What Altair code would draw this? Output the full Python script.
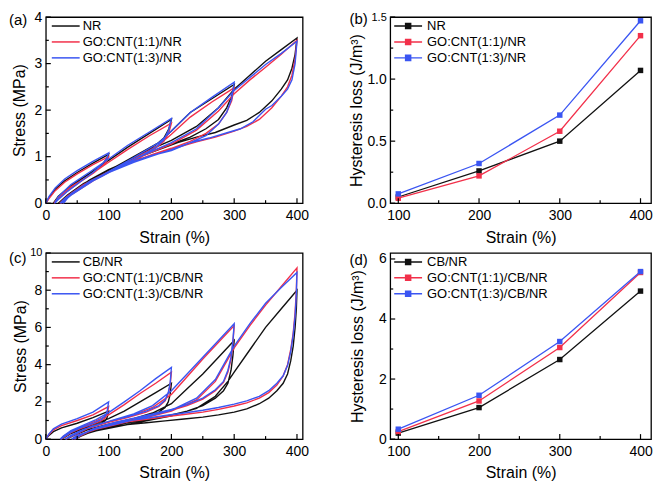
import altair as alt
import pandas as pd

FONT = "Liberation Sans"
BLACK = "#111111"
RED = "#f2304a"
BLUE = "#3a55f2"

# ---------------- (a) cyclic stress-strain loops, unfilled rubbers ----------------
a_nr_strain = [0, 5, 15, 30, 50, 75, 100, 97, 90, 75, 55, 35, 20, 12,
               20, 40, 70, 100, 130, 165, 200, 196, 188, 175, 150, 120, 90, 60, 35, 20,
               30, 60, 100, 140, 180, 200, 230, 265, 300, 296, 288, 275, 255, 230, 200, 170, 140, 100, 70, 40, 22,
               40, 80, 120, 160, 200, 240, 275, 300, 325, 350, 375, 400,
               397, 392, 385, 375, 360, 340, 320, 300, 270, 240, 210, 180, 150, 110, 70, 40, 25]
a_nr_stress = [0, 0.12, 0.3, 0.48, 0.66, 0.86, 1.05, 0.95, 0.84, 0.68, 0.5, 0.3, 0.12, 0,
               0.15, 0.38, 0.64, 0.92, 1.2, 1.5, 1.8, 1.6, 1.4, 1.25, 1.05, 0.85, 0.63, 0.42, 0.18, 0,
               0.12, 0.4, 0.7, 1.0, 1.3, 1.55, 1.95, 2.25, 2.55, 2.3, 2.05, 1.8, 1.6, 1.42, 1.27, 1.12, 0.95, 0.72, 0.5, 0.22, 0,
               0.2, 0.55, 0.85, 1.12, 1.35, 1.65, 2.05, 2.45, 2.75, 3.05, 3.3, 3.55,
               3.2, 2.9, 2.65, 2.45, 2.2, 1.95, 1.78, 1.68, 1.52, 1.42, 1.3, 1.15, 1.0, 0.78, 0.5, 0.22, 0]

a_11_strain = [0, 5, 15, 30, 50, 75, 100, 97, 90, 75, 55, 35, 20, 13,
               20, 40, 70, 100, 130, 165, 200, 196, 188, 175, 150, 120, 90, 60, 35, 22,
               30, 60, 100, 140, 180, 200, 230, 265, 300, 296, 288, 275, 255, 230, 200, 170, 140, 100, 70, 40, 24,
               40, 80, 120, 160, 200, 240, 275, 300, 325, 350, 375, 400,
               397, 392, 385, 375, 360, 340, 320, 300, 270, 240, 210, 180, 150, 110, 70, 40, 27]
a_11_stress = [0, 0.1, 0.27, 0.45, 0.63, 0.83, 1.0, 0.9, 0.8, 0.64, 0.46, 0.27, 0.1, 0,
               0.13, 0.35, 0.6, 0.88, 1.15, 1.45, 1.72, 1.52, 1.33, 1.18, 0.98, 0.8, 0.6, 0.4, 0.16, 0,
               0.1, 0.37, 0.66, 0.95, 1.25, 1.48, 1.85, 2.18, 2.48, 2.2, 1.95, 1.7, 1.5, 1.33, 1.18, 1.05, 0.9, 0.68, 0.47, 0.2, 0,
               0.18, 0.52, 0.8, 1.05, 1.27, 1.57, 1.98, 2.35, 2.65, 2.92, 3.2, 3.5,
               3.1, 2.75, 2.5, 2.3, 2.05, 1.8, 1.65, 1.55, 1.42, 1.32, 1.2, 1.08, 0.95, 0.74, 0.47, 0.2, 0]

a_13_strain = [0, 5, 15, 30, 50, 75, 100, 97, 90, 75, 55, 35, 20, 14,
               20, 40, 70, 100, 130, 165, 200, 196, 188, 175, 150, 120, 90, 60, 35, 23,
               30, 60, 100, 140, 180, 200, 230, 265, 300, 296, 288, 275, 255, 230, 200, 170, 140, 100, 70, 40, 25,
               40, 80, 120, 160, 200, 240, 275, 300, 325, 350, 375, 400,
               397, 392, 385, 375, 360, 350, 330, 310, 290, 260, 230, 200, 170, 140, 110, 70, 40, 28]
a_13_stress = [0, 0.14, 0.33, 0.52, 0.7, 0.9, 1.08, 0.96, 0.84, 0.66, 0.46, 0.26, 0.08, 0,
               0.14, 0.4, 0.67, 0.95, 1.24, 1.53, 1.82, 1.58, 1.36, 1.2, 1.0, 0.8, 0.58, 0.38, 0.14, 0,
               0.1, 0.38, 0.68, 0.98, 1.3, 1.55, 1.95, 2.28, 2.6, 2.25, 1.95, 1.7, 1.45, 1.3, 1.15, 1.02, 0.88, 0.66, 0.45, 0.18, 0,
               0.17, 0.52, 0.8, 1.06, 1.3, 1.6, 2.05, 2.42, 2.7, 2.98, 3.22, 3.48,
               3.0, 2.65, 2.45, 2.3, 2.1, 2.02, 1.75, 1.6, 1.52, 1.4, 1.3, 1.13, 1.03, 0.9, 0.74, 0.47, 0.2, 0]

# ---------------- (c) cyclic stress-strain loops, CB filled rubbers ----------------
c_cb_strain = [0, 5, 12, 25, 50, 75, 100, 98, 95, 88, 75, 55, 40, 28, 25,
               28, 40, 60, 80, 100, 125, 150, 175, 200, 198, 195, 190, 180, 160, 130, 100, 70, 45, 33,
               40, 60, 100, 140, 170, 200, 225, 250, 275, 300,
               298, 295, 290, 283, 270, 250, 225, 200, 170, 140, 110, 80, 55, 42,
               50, 80, 120, 160, 200, 240, 270, 290, 300, 325, 350, 375, 400,
               399, 397, 394, 390, 385, 378, 368, 355, 340, 320, 300, 275, 250, 220, 190, 160, 130, 100, 75, 55, 47]
c_cb_stress = [0, 0.2, 0.4, 0.6, 0.85, 1.15, 1.5, 1.2, 1.0, 0.85, 0.7, 0.5, 0.3, 0.05, 0,
               0.12, 0.35, 0.6, 0.85, 1.1, 1.5, 2.0, 2.5, 3.0, 2.4, 2.0, 1.7, 1.45, 1.2, 0.97, 0.78, 0.55, 0.2, 0,
               0.15, 0.45, 0.8, 1.1, 1.4, 1.9, 2.7, 3.5, 4.4, 5.3,
               4.5, 3.7, 3.0, 2.6, 2.2, 1.8, 1.5, 1.3, 1.1, 0.93, 0.75, 0.5, 0.15, 0,
               0.15, 0.45, 0.72, 0.98, 1.25, 1.65, 2.3, 3.1, 3.6, 4.8, 6.0, 7.0, 8.0,
               7.0, 6.0, 5.0, 4.2, 3.5, 3.0, 2.6, 2.2, 1.9, 1.62, 1.45, 1.3, 1.18, 1.08, 0.98, 0.88, 0.78, 0.65, 0.45, 0.15, 0]

c_11_strain = [0, 5, 12, 25, 50, 75, 100, 98, 95, 88, 75, 55, 40, 27, 24,
               28, 40, 60, 80, 100, 125, 150, 175, 200, 198, 195, 190, 180, 160, 130, 100, 70, 45, 32,
               40, 60, 100, 140, 170, 200, 225, 250, 275, 300,
               298, 295, 290, 283, 270, 250, 225, 200, 170, 140, 110, 80, 55, 42,
               50, 80, 120, 160, 200, 240, 270, 290, 300, 325, 350, 375, 400,
               399, 397, 394, 390, 385, 378, 368, 355, 340, 320, 300, 275, 250, 220, 190, 160, 130, 100, 75, 55, 46]
c_11_stress = [0, 0.25, 0.5, 0.72, 1.0, 1.3, 1.75, 1.4, 1.15, 0.98, 0.8, 0.57, 0.35, 0.05, 0,
               0.15, 0.42, 0.7, 0.98, 1.3, 1.85, 2.45, 3.0, 3.6, 2.9, 2.45, 2.05, 1.75, 1.45, 1.15, 0.9, 0.62, 0.22, 0,
               0.18, 0.5, 0.92, 1.3, 1.7, 2.4, 3.35, 4.3, 5.2, 6.1,
               5.2, 4.3, 3.6, 3.05, 2.6, 2.15, 1.8, 1.55, 1.3, 1.1, 0.88, 0.58, 0.18, 0,
               0.18, 0.52, 0.85, 1.15, 1.5, 2.1, 3.1, 4.3, 4.9, 6.1, 7.2, 8.2, 9.2,
               8.0, 6.8, 5.7, 4.8, 4.0, 3.4, 2.9, 2.5, 2.2, 1.95, 1.78, 1.6, 1.45, 1.32, 1.2, 1.06, 0.93, 0.77, 0.52, 0.18, 0]

c_13_strain = [0, 5, 12, 25, 50, 75, 100, 98, 95, 88, 75, 55, 40, 26, 23,
               28, 40, 60, 80, 100, 125, 150, 175, 200, 198, 195, 190, 180, 160, 130, 100, 70, 45, 31,
               40, 60, 100, 140, 170, 200, 225, 250, 275, 300,
               298, 295, 290, 283, 270, 250, 225, 200, 170, 140, 110, 80, 55, 41,
               50, 80, 120, 160, 200, 240, 270, 290, 300, 325, 350, 375, 400,
               399, 397, 394, 390, 385, 378, 368, 355, 340, 320, 300, 275, 250, 220, 190, 160, 130, 100, 75, 55, 45]
c_13_stress = [0, 0.28, 0.55, 0.8, 1.1, 1.45, 2.0, 1.55, 1.25, 1.05, 0.85, 0.6, 0.37, 0.05, 0,
               0.17, 0.45, 0.75, 1.05, 1.42, 2.0, 2.6, 3.25, 3.85, 3.0, 2.5, 2.1, 1.8, 1.5, 1.2, 0.95, 0.65, 0.23, 0,
               0.2, 0.52, 0.95, 1.35, 1.8, 2.6, 3.5, 4.4, 5.3, 6.2,
               5.3, 4.4, 3.7, 3.1, 2.65, 2.2, 1.85, 1.6, 1.35, 1.13, 0.9, 0.6, 0.2, 0,
               0.2, 0.55, 0.88, 1.2, 1.55, 2.2, 3.2, 4.4, 5.0, 6.2, 7.3, 8.15, 8.95,
               7.8, 6.6, 5.6, 4.7, 3.95, 3.4, 3.0, 2.6, 2.3, 2.05, 1.88, 1.7, 1.55, 1.4, 1.27, 1.12, 0.98, 0.8, 0.55, 0.2, 0]

# ---------------- (b), (d) hysteresis loss ----------------
hl_strain = [100, 200, 300, 400]
b_nr = [0.05, 0.26, 0.50, 1.07]
b_11 = [0.04, 0.22, 0.58, 1.35]
b_13 = [0.075, 0.32, 0.71, 1.47]
d_cb = [0.20, 1.05, 2.65, 4.93]
d_11 = [0.25, 1.27, 3.05, 5.55]
d_13 = [0.33, 1.46, 3.25, 5.58]

names_top = ["NR", "GO:CNT(1:1)/NR", "GO:CNT(1:3)/NR"]
names_bot = ["CB/NR", "GO:CNT(1:1)/CB/NR", "GO:CNT(1:3)/CB/NR"]

# tick values
x_loop_major = [0, 100, 200, 300, 400]
x_loop_minor = [50, 150, 250, 350]
x_hl_major = [100, 200, 300, 400]
x_hl_minor = [150, 250, 350]
ya_major = [0, 1, 2, 3, 4]
ya_minor = [0.5, 1.5, 2.5, 3.5]
yb_major = [0, 0.5, 1.0, 1.5]
yb_minor = [0.25, 0.75, 1.25]
yc_major = [0, 2, 4, 6, 8, 10]
yc_minor = [1, 3, 5, 7, 9]
yd_major = [0, 2, 4, 6]
yd_minor = [1, 3, 5]

W_L, W_R, H = 258, 262, 187
SP_H, SP_V = 88, 50


def make_df(series):
    frames = []
    for name, xs, ys in series:
        frames.append(pd.DataFrame({"strain": xs, "val": ys, "sample": name,
                                    "i": list(range(len(xs)))}))
    return pd.concat(frames, ignore_index=True)


LINE_PATH = "M-2,0H2"
SQ_PATH = "M-2,0H2M-0.36,-0.36H0.36V0.36H-0.36ZM-0.15,-0.15H0.15V0.15H-0.15Z"


def panel(df, names, xdom, ydom, xmaj, xmin, ymaj, ymin, ytitle, ytp, yfmt, small_top,
          letter, letter_dx, letter_dy, leg_x, leg_y, label_off, width, points):
    xs = alt.Scale(domain=xdom, nice=False, zero=False)
    ys = alt.Scale(domain=ydom, nice=False, zero=False)
    legend = alt.Legend(title=None, orient="none", legendX=leg_x, legendY=leg_y,
                        direction="vertical", symbolType=SQ_PATH if points else LINE_PATH,
                        symbolSize=196, symbolStrokeWidth=1.5, labelOffset=label_off,
                        labelFont=FONT, labelFontSize=13, labelColor="black",
                        rowPadding=1, padding=0)
    color = alt.Color("sample:N", scale=alt.Scale(domain=names, range=[BLACK, RED, BLUE]),
                      legend=legend)
    xaxis = alt.Axis(values=xmaj, title="Strain (%)", ticks=False, domain=False, grid=False,
                     labelFont=FONT, labelFontSize=14, labelColor="black", labelPadding=5,
                     labelFlush=False, labelOverlap=False, format="d",
                     titleFont=FONT, titleFontSize=16, titleFontWeight="normal",
                     titleColor="black", titlePadding=7)
    if small_top is not None:
        yfs = alt.condition(f"datum.value == {small_top}", alt.value(11), alt.value(14))
    else:
        yfs = 14
    yaxis = alt.Axis(values=ymaj, title=ytitle, ticks=False, domain=False, grid=False,
                     labelFont=FONT, labelFontSize=yfs, labelColor="black", labelPadding=4,
                     labelFlush=False, labelOverlap=False, format=yfmt,
                     titleFont=FONT, titleFontSize=16, titleFontWeight="normal",
                     titleColor="black", titlePadding=ytp)
    if points:
        base = alt.Chart(df).mark_line(strokeWidth=1.3,
                                       point=alt.OverlayMarkDef(shape="square", size=30, filled=True))
    else:
        base = alt.Chart(df).mark_line(strokeWidth=1.4)
    lines = base.encode(
        x=alt.X("strain:Q", scale=xs, axis=xaxis),
        y=alt.Y("val:Q", scale=ys, axis=yaxis),
        color=color,
        order="i:Q",
    )
    layers = [lines]
    for vals, ln in ((ymaj, 5), (ymin, 3)):
        layers.append(alt.Chart(pd.DataFrame({"val": vals})).mark_rule(color="black", strokeWidth=1.2).encode(
            y=alt.Y("val:Q", scale=ys, axis=None), x=alt.value(0), x2=alt.value(ln)))
    for vals, ln in ((xmaj, 5), (xmin, 3)):
        layers.append(alt.Chart(pd.DataFrame({"strain": vals})).mark_rule(color="black", strokeWidth=1.2).encode(
            x=alt.X("strain:Q", scale=xs, axis=None), y=alt.value(H), y2=alt.value(H - ln)))
    layers.append(alt.Chart(pd.DataFrame({"t": [letter]})).mark_text(
        align="left", baseline="middle", font=FONT, fontSize=15, color="black").encode(
        text="t:N", x=alt.value(letter_dx), y=alt.value(letter_dy)))
    return (alt.layer(*layers)
            .resolve_scale(x="independent", y="independent")
            .properties(width=width, height=H))


df_a = make_df([(names_top[0], a_nr_strain, a_nr_stress),
                (names_top[1], a_11_strain, a_11_stress),
                (names_top[2], a_13_strain, a_13_stress)])
df_b = make_df([(names_top[0], hl_strain, b_nr),
                (names_top[1], hl_strain, b_11),
                (names_top[2], hl_strain, b_13)])
df_c = make_df([(names_bot[0], c_cb_strain, c_cb_stress),
                (names_bot[1], c_11_strain, c_11_stress),
                (names_bot[2], c_13_strain, c_13_stress)])
df_d = make_df([(names_bot[0], hl_strain, d_cb),
                (names_bot[1], hl_strain, d_11),
                (names_bot[2], hl_strain, d_13)])

pa = panel(df_a, names_top, [0, 409], [0, 4], x_loop_major, x_loop_minor, ya_major, ya_minor,
           "Stress (MPa)", 7, "d", None, "(a)", -37, 3, 12, 1, 9, W_L, False)
pb = panel(df_b, names_top, [90, 413], [0, 1.5], x_hl_major, x_hl_minor, yb_major, yb_minor,
           "Hysteresis loss (J/m³)", 2, ".1f", 1.5, "(b)", -41, 2, 10, 1, 11, W_R, True)
pc = panel(df_c, names_bot, [0, 409], [0, 10], x_loop_major, x_loop_minor, yc_major, yc_minor,
           "Stress (MPa)", 1, "d", 10, "(c)", -37, 5, 12, 1, 9, W_L, False)
pd_ = panel(df_d, names_bot, [90, 413], [0, 6.2], x_hl_major, x_hl_minor, yd_major, yd_minor,
            "Hysteresis loss (J/m³)", 13, "d", None, "(d)", -41, 7, 10, 1, 11, W_R, True)

chart = (alt.concat(pa, pb, pc, pd_, columns=2, spacing={"row": SP_V, "column": SP_H},
                    bounds="flush")
         .resolve_scale(color="independent", x="independent", y="independent")
         .properties(padding=0)
         .configure(font=FONT)
         .configure_axis(titleFontWeight="normal", labelFontWeight="normal")
         .configure_view(stroke="black", strokeWidth=1.3))

chart.save("out.html", embed_options={"renderer": "svg", "actions": False})
